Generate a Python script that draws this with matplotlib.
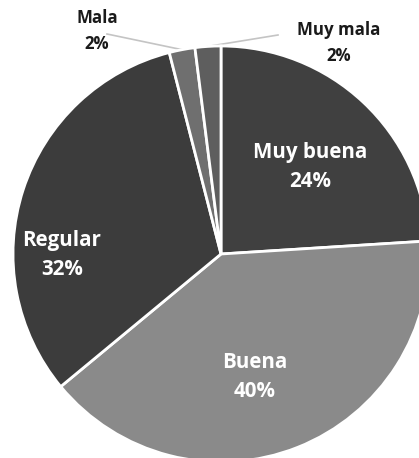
import matplotlib.pyplot as plt
import numpy as np

categorias = ['Muy buena', 'Buena', 'Regular', 'Mala', 'Muy mala']
porcentajes = [24, 40, 32, 2, 2]
colores = ['#404040', '#8a8a8a', '#3c3c3c', '#6f6f6f', '#5e5e5e']

W, H = 419, 458
fig = plt.figure(figsize=(W / 100, H / 100), dpi=100)
ax = fig.add_axes([0, 0, 1, 1])

cx, cy, r = 221, H - 254, 208
wedges, _ = ax.pie(porcentajes, colors=colores, startangle=90, counterclock=False,
                   center=(cx, cy), radius=r, frame=True,
                   wedgeprops=dict(edgecolor='white', linewidth=2))
ax.set_xlim(0, W)
ax.set_ylim(0, H)
ax.axis('off')

fuente = 'Open Sans'
# etiquetas dentro de las porciones grandes
dentro = {'Muy buena': (310, 167), 'Buena': (255, 377), 'Regular': (62, 255)}
for cat, pct in zip(categorias, porcentajes):
    if cat in dentro:
        x, y = dentro[cat]
        ax.text(x, H - y, f'{cat}\n{pct}%', ha='center', va='center', color='white',
                fontsize=14.8, fontweight='bold', family=fuente, linespacing=1.5)

# etiquetas de las porciones pequeñas con línea guía
fuera = {'Mala': ((97, 31), (107, 34)), 'Muy mala': ((339, 43), (278, 35))}
for w, cat, pct in zip(wedges, categorias, porcentajes):
    if cat in fuera:
        (tx, ty), (lx, ly) = fuera[cat]
        ang = np.deg2rad((w.theta1 + w.theta2) / 2)
        px, py = cx + r * np.cos(ang), cy + r * np.sin(ang)
        ax.plot([lx, px], [H - ly, py], color='#c4c4c4', lw=1.2, zorder=0)
        ax.text(tx, H - ty, f'{cat}\n{pct}%', ha='center', va='center', color='#1a1a1a',
                fontsize=12.2, fontweight='bold', family=fuente, linespacing=1.55)

fig.savefig('out.png', dpi=100)
